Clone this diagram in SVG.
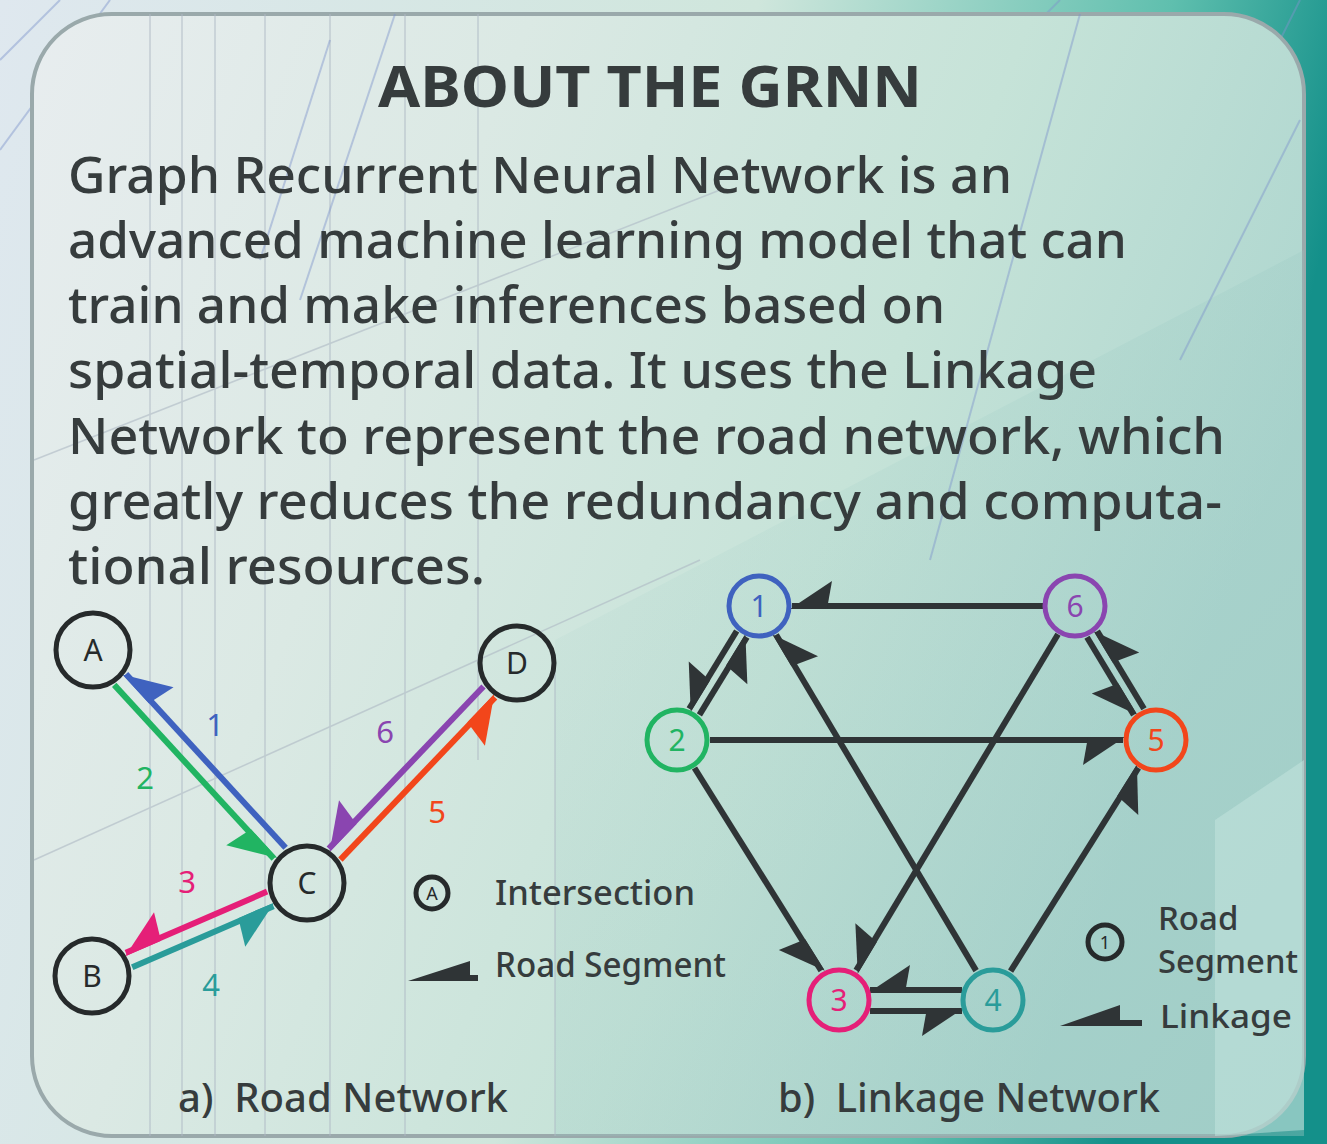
<svg xmlns="http://www.w3.org/2000/svg" width="1327" height="1144" viewBox="0 0 1327 1144">
<defs>
<linearGradient id="bg" x1="0" y1="0" x2="1" y2="0.2">
<stop offset="0" stop-color="#dfe8ef"/>
<stop offset="0.55" stop-color="#cfe6dc"/>
<stop offset="0.85" stop-color="#5fbfae"/>
<stop offset="1" stop-color="#14908a"/>
</linearGradient>
<linearGradient id="panel" x1="0" y1="0" x2="1" y2="0.35">
<stop offset="0" stop-color="#e8edef"/>
<stop offset="0.35" stop-color="#dbe9e4"/>
<stop offset="0.7" stop-color="#c6e3d8"/>
<stop offset="1" stop-color="#aed6cf"/>
</linearGradient>
<linearGradient id="shade" x1="0" y1="0" x2="1" y2="1">
<stop offset="0" stop-color="#9ccbc4" stop-opacity="0"/>
<stop offset="1" stop-color="#8fc2bd" stop-opacity="0.45"/>
</linearGradient>
<marker id="m-dark" markerUnits="userSpaceOnUse" orient="auto" overflow="visible" refX="0" refY="0" markerWidth="1" markerHeight="1"><path d="M2,-3 L-40,25 L-35,-3 Z" fill="#2f3436"/></marker>
<marker id="m-blue" markerUnits="userSpaceOnUse" orient="auto" overflow="visible" refX="0" refY="0" markerWidth="1" markerHeight="1"><path d="M2,-3 L-42,26 L-37,-3 Z" fill="#3f62bf"/></marker>
<marker id="m-green" markerUnits="userSpaceOnUse" orient="auto" overflow="visible" refX="0" refY="0" markerWidth="1" markerHeight="1"><path d="M2,-3 L-42,26 L-37,-3 Z" fill="#21b462"/></marker>
<marker id="m-purple" markerUnits="userSpaceOnUse" orient="auto" overflow="visible" refX="0" refY="0" markerWidth="1" markerHeight="1"><path d="M2,-3 L-42,26 L-37,-3 Z" fill="#8a45b0"/></marker>
<marker id="m-red" markerUnits="userSpaceOnUse" orient="auto" overflow="visible" refX="0" refY="0" markerWidth="1" markerHeight="1"><path d="M2,-3 L-42,26 L-37,-3 Z" fill="#f2461b"/></marker>
<marker id="m-pink" markerUnits="userSpaceOnUse" orient="auto" overflow="visible" refX="0" refY="0" markerWidth="1" markerHeight="1"><path d="M2,-3 L-42,26 L-37,-3 Z" fill="#e51f78"/></marker>
<marker id="m-teal" markerUnits="userSpaceOnUse" orient="auto" overflow="visible" refX="0" refY="0" markerWidth="1" markerHeight="1"><path d="M2,-3 L-42,26 L-37,-3 Z" fill="#2a9c9a"/></marker>
</defs>
<style>
.txt{font-family:"Noto Sans","Open Sans","DejaVu Sans",sans-serif;fill:#363c3d}
.title{font-size:58px;font-weight:700}
.body{font-size:50px;font-weight:500}
.lbl{font-size:35px;font-weight:500}
.cap{font-size:40px;font-weight:500;white-space:pre}
.node circle{fill:none;stroke:#262a2b;stroke-width:5}
.node text{font-family:"Noto Sans","Open Sans",sans-serif;font-size:30px;fill:#262a2b;text-anchor:middle}
.lnode circle{fill:none;stroke-width:5}
.lnode text{font-family:"Noto Sans","Open Sans",sans-serif;font-size:30px;text-anchor:middle}
.road line{stroke-width:6}
.link line{stroke:#2f3436;stroke-width:6;marker-end:url(#m-dark)}
.num{font-family:"Noto Sans","Open Sans",sans-serif;font-size:31px;text-anchor:middle}
.deco{stroke:#aeb9c4;stroke-width:1.5;fill:none;opacity:0.6}
.decob{stroke:#7f95cc;stroke-width:2;fill:none;opacity:0.45}
</style>
<rect x="0" y="0" width="1327" height="1144" fill="url(#bg)"/>
<g class="decob">
<line x1="0" y1="60" x2="60" y2="0"/>
<line x1="0" y1="150" x2="110" y2="0"/>
<line x1="1040" y1="20" x2="1060" y2="0"/>
<line x1="1270" y1="60" x2="1300" y2="0"/>
</g>
<rect x="32" y="14" width="1272" height="1122" rx="80" fill="url(#panel)" stroke="#9aa9ab" stroke-width="4"/>
<polygon points="555,640 1304,250 1304,1136 555,1136" fill="url(#shade)"/>
<polygon points="1215,820 1304,760 1304,1130 1215,1136" fill="#c6e6e0" opacity="0.5"/>
<g class="deco">
<line x1="150" y1="14" x2="150" y2="1136"/>
<line x1="182" y1="14" x2="182" y2="1136"/>
<line x1="215" y1="14" x2="215" y2="1136"/>
<line x1="265" y1="14" x2="265" y2="1136"/>
<line x1="330" y1="14" x2="330" y2="1136"/>
<line x1="405" y1="14" x2="405" y2="1136"/>
<line x1="478" y1="14" x2="478" y2="760"/>
<line x1="555" y1="660" x2="555" y2="1136"/>
<line x1="34" y1="860" x2="700" y2="560"/>
<line x1="34" y1="460" x2="720" y2="190"/>
</g>
<g class="decob">
<line x1="330" y1="40" x2="260" y2="260"/>
<line x1="395" y1="14" x2="300" y2="300"/>
<line x1="1080" y1="14" x2="930" y2="560"/>
<line x1="1300" y1="120" x2="1180" y2="360"/>
</g>
<text class="txt title" x="378" y="107" textLength="544" lengthAdjust="spacingAndGlyphs">ABOUT THE GRNN</text>
<g class="txt body">
<text x="68" y="193" textLength="944" lengthAdjust="spacingAndGlyphs">Graph Recurrent Neural Network is an</text>
<text x="68" y="258" textLength="1059" lengthAdjust="spacingAndGlyphs">advanced machine learning model that can</text>
<text x="68" y="323" textLength="877" lengthAdjust="spacingAndGlyphs">train and make inferences based on</text>
<text x="68" y="388" textLength="1029" lengthAdjust="spacingAndGlyphs">spatial-temporal data. It uses the Linkage</text>
<text x="68" y="454" textLength="1157" lengthAdjust="spacingAndGlyphs">Network to represent the road network, which</text>
<text x="68" y="519" textLength="1154" lengthAdjust="spacingAndGlyphs">greatly reduces the redundancy and computa-</text>
<text x="68" y="584" textLength="417" lengthAdjust="spacingAndGlyphs">tional resources.</text>
</g>
<g id="connectors">
<g class="road">
<line x1="285.6" y1="847.8" x2="126" y2="674" stroke="#3f62bf" marker-end="url(#m-blue)"/>
<line x1="114.2" y1="684.9" x2="273.8" y2="858.6" stroke="#21b462" marker-end="url(#m-green)"/>
<line x1="483.5" y1="686.5" x2="328.8" y2="848.6" stroke="#8a45b0" marker-end="url(#m-purple)"/>
<line x1="340.4" y1="859.6" x2="495.1" y2="697.5" stroke="#f2461b" marker-end="url(#m-red)"/>
<line x1="267.1" y1="891.6" x2="125.8" y2="952.7" stroke="#e51f78" marker-end="url(#m-pink)"/>
<line x1="132.2" y1="967.3" x2="273.5" y2="906.2" stroke="#2a9c9a" marker-end="url(#m-teal)"/>
</g>
<g class="link">
<line x1="1043" y1="606" x2="792" y2="606"/>
<line x1="710" y1="740" x2="1123" y2="740"/>
<line x1="736.7" y1="631" x2="689.2" y2="708.7"/>
<line x1="699.4" y1="714.9" x2="746.9" y2="637.2"/>
<line x1="1087" y1="637.3" x2="1133.8" y2="714.9"/>
<line x1="1144" y1="708.7" x2="1097.2" y2="631.1"/>
<line x1="976.1" y1="970.6" x2="776.1" y2="634.7"/>
<line x1="694.5" y1="768" x2="821.2" y2="970.6"/>
<line x1="1058" y1="634.3" x2="856.2" y2="970.4"/>
<line x1="1010.6" y1="971.1" x2="1138.4" y2="767.9"/>
<line x1="962" y1="990" x2="870" y2="990"/>
<line x1="870" y1="1011" x2="962" y2="1011"/>
</g>
</g>
<g class="num">
<text x="215" y="736" fill="#3f62bf">1</text>
<text x="145" y="789" fill="#21b462">2</text>
<text x="385" y="743" fill="#8a45b0">6</text>
<text x="437" y="823" fill="#f2461b">5</text>
<text x="187" y="893" fill="#e51f78">3</text>
<text x="211" y="996" fill="#2a9c9a">4</text>
</g>
<g id="node-A" class="node"><circle cx="93" cy="650" r="37"/><text x="93" y="661">A</text></g>
<g id="node-B" class="node"><circle cx="92" cy="976" r="37"/><text x="92" y="987">B</text></g>
<g id="node-C" class="node"><circle cx="307" cy="883" r="37"/><text x="307" y="894">C</text></g>
<g id="node-D" class="node"><circle cx="517" cy="663" r="37"/><text x="517" y="674">D</text></g>
<g id="legend-a">
<g class="node"><circle cx="432" cy="893" r="16" stroke-width="4"/><text x="432" y="900" style="font-size:18px">A</text></g>
<text class="txt lbl" x="495" y="905" textLength="200" lengthAdjust="spacingAndGlyphs">Intersection</text>
<path d="M408,981 L470,961 L470,975 L478,975 L478,981 Z" fill="#2f3436"/>
<text class="txt lbl" x="495" y="977" textLength="231" lengthAdjust="spacingAndGlyphs">Road Segment</text>
</g>
<g id="node-1" class="lnode"><circle cx="759" cy="606" r="30" stroke="#3f62bf"/><text x="759" y="617" fill="#3f62bf">1</text></g>
<g id="node-6" class="lnode"><circle cx="1075" cy="606" r="30" stroke="#8a45b0"/><text x="1075" y="617" fill="#8a45b0">6</text></g>
<g id="node-2" class="lnode"><circle cx="677" cy="740" r="30" stroke="#21b462"/><text x="677" y="751" fill="#21b462">2</text></g>
<g id="node-5" class="lnode"><circle cx="1156" cy="740" r="30" stroke="#f2461b"/><text x="1156" y="751" fill="#f2461b">5</text></g>
<g id="node-3" class="lnode"><circle cx="839" cy="1000" r="30" stroke="#e51f78"/><text x="839" y="1011" fill="#e51f78">3</text></g>
<g id="node-4" class="lnode"><circle cx="993" cy="1000" r="30" stroke="#2a9c9a"/><text x="993" y="1011" fill="#2a9c9a">4</text></g>
<g id="legend-b">
<g class="node"><circle cx="1105" cy="942" r="17" stroke-width="4"/><text x="1105" y="949" style="font-size:18px">1</text></g>
<text class="txt" style="font-size:33px;font-weight:500" x="1158" y="930">Road</text>
<text class="txt" style="font-size:33px;font-weight:500" x="1158" y="973" textLength="140" lengthAdjust="spacingAndGlyphs">Segment</text>
<path d="M1060,1026 L1120,1005 L1120,1020 L1142,1020 L1142,1026 Z" fill="#2f3436"/>
<text class="txt" style="font-size:33px;font-weight:500" x="1160" y="1028" textLength="132" lengthAdjust="spacingAndGlyphs">Linkage</text>
</g>
<text class="txt cap" x="178" y="1112" textLength="330" lengthAdjust="spacingAndGlyphs">a)  Road Network</text>
<text class="txt cap" x="778" y="1112" textLength="382" lengthAdjust="spacingAndGlyphs">b)  Linkage Network</text>
</svg>
